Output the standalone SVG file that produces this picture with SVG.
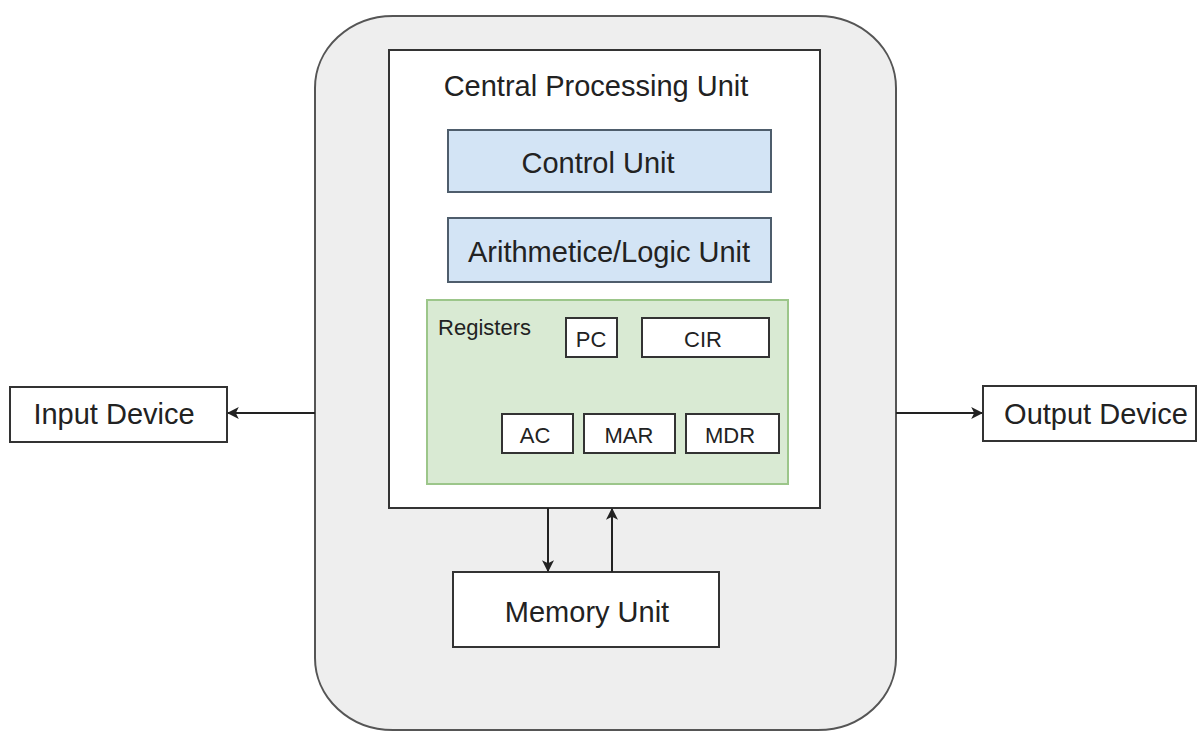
<svg xmlns="http://www.w3.org/2000/svg" width="1202" height="731" viewBox="0 0 1202 731">
<defs>
<style>
.box{fill:#ffffff;stroke:#333333;stroke-width:2}
.blue{fill:#d3e4f5;stroke:#4e5d6c;stroke-width:2}
.green{fill:#d9ead3;stroke:#9cc68a;stroke-width:2}
.outer{fill:#eeeeee;stroke:#555555;stroke-width:2}
.t{font-family:"Liberation Sans",Arial,sans-serif;fill:#222222;text-anchor:middle}
.big{font-size:29px}
.small{font-size:22px}
.conn{stroke:#222222;stroke-width:2;fill:none;marker-end:url(#arr)}
</style>
<marker id="arr" viewBox="0 0 10 10" refX="9" refY="5" markerWidth="6" markerHeight="6" orient="auto" markerUnits="strokeWidth">
<path d="M0,0 L10,5 L0,10 L2.5,5 Z" fill="#222222"/>
</marker>
</defs>
<rect width="1202" height="731" fill="#ffffff"/>
<g id="computer">
<rect class="outer" x="315" y="16" width="581" height="714" rx="78" ry="72"/>
</g>
<g id="cpu">
<rect class="box" x="389" y="50" width="431" height="458"/>
<text class="t big" x="596" y="96">Central Processing Unit</text>
</g>
<g id="control-unit">
<rect class="blue" x="448" y="130" width="323" height="62"/>
<text class="t big" x="598" y="173">Control Unit</text>
</g>
<g id="alu">
<rect class="blue" x="448" y="218" width="323" height="64"/>
<text class="t big" x="609" y="262">Arithmetice/Logic Unit</text>
</g>
<g id="registers">
<rect class="green" x="427" y="300" width="361" height="184"/>
<text class="t small" x="484.5" y="335">Registers</text>
</g>
<g id="pc">
<rect class="box" x="566" y="318" width="51" height="39"/>
<text class="t small" x="591" y="347">PC</text>
</g>
<g id="cir">
<rect class="box" x="642" y="318" width="127" height="39"/>
<text class="t small" x="703" y="347">CIR</text>
</g>
<g id="ac">
<rect class="box" x="502" y="414" width="71" height="39"/>
<text class="t small" x="535" y="443">AC</text>
</g>
<g id="mar">
<rect class="box" x="584" y="414" width="91" height="39"/>
<text class="t small" x="629" y="443">MAR</text>
</g>
<g id="mdr">
<rect class="box" x="686" y="414" width="93" height="39"/>
<text class="t small" x="730" y="443">MDR</text>
</g>
<g id="memory-unit">
<rect class="box" x="453" y="572" width="266" height="75"/>
<text class="t big" x="587" y="622">Memory Unit</text>
</g>
<g id="input-device">
<rect class="box" x="10" y="387" width="217" height="55"/>
<text class="t big" x="114" y="424">Input Device</text>
</g>
<g id="output-device">
<rect class="box" x="983" y="386" width="213" height="55"/>
<text class="t big" x="1096" y="424">Output Device</text>
</g>
<g id="connectors">
<line class="conn" x1="315" y1="413" x2="228" y2="413"/>
<line class="conn" x1="896" y1="413" x2="982" y2="413"/>
<line class="conn" x1="548" y1="508" x2="548" y2="571"/>
<line class="conn" x1="612" y1="572" x2="612" y2="509"/>
</g>
</svg>
